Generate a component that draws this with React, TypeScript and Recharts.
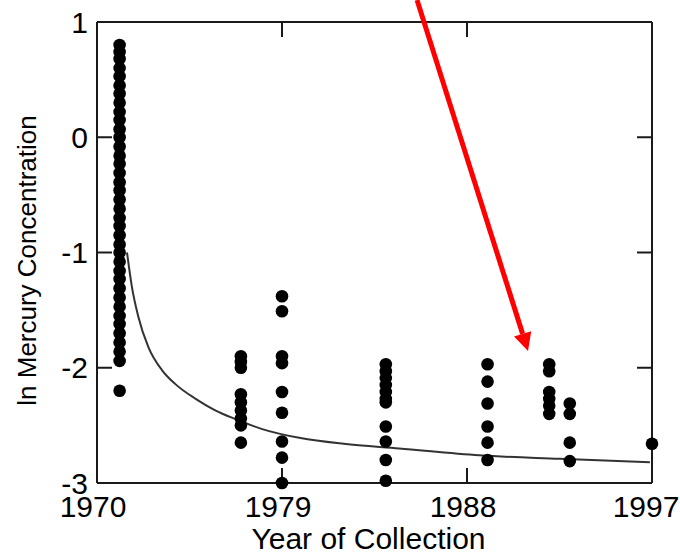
import React from 'react';
import {
  ComposedChart,
  Scatter,
  Line,
  XAxis,
  YAxis,
  ReferenceLine,
} from 'recharts';

// year of collection for each column of samples
const COLUMN_YEARS = [1971.1, 1977, 1979, 1984.05, 1989, 1992, 1993, 1997];

// ln mercury values read per column
const LN_HG_1971 = [
  0.8, 0.74, 0.68, 0.6, 0.53, 0.45, 0.38, 0.3, 0.22, 0.15, 0.07, 0.0, -0.08,
  -0.16, -0.23, -0.31, -0.39, -0.46, -0.54, -0.62, -0.7, -0.77, -0.85, -0.93,
  -1.0, -1.08, -1.16, -1.23, -1.31, -1.39, -1.47, -1.55, -1.62, -1.7, -1.78,
  -1.86, -1.94, -2.2,
];
const LN_HG_1977 = [-1.9, -1.95, -2.0, -2.23, -2.3, -2.37, -2.44, -2.5, -2.65];
const LN_HG_1979 = [-1.38, -1.51, -1.9, -1.96, -2.21, -2.39, -2.64, -2.78, -3.0];
const LN_HG_1984 = [-1.97, -2.03, -2.09, -2.15, -2.21, -2.27, -2.3, -2.51, -2.64, -2.8, -2.98];
const LN_HG_1989 = [-1.97, -2.12, -2.31, -2.51, -2.65, -2.8];
const LN_HG_1992 = [-1.97, -2.03, -2.21, -2.27, -2.33, -2.4];
const LN_HG_1993 = [-2.31, -2.4, -2.65, -2.81];
const LN_HG_1997 = [-2.66];

const COLUMNS = [
  LN_HG_1971, LN_HG_1977, LN_HG_1979, LN_HG_1984,
  LN_HG_1989, LN_HG_1992, LN_HG_1993, LN_HG_1997,
];

// fitted decay curve
const TREND_YEARS = [1971.46, 1971.7, 1972.0, 1972.5, 1973.16, 1973.8, 1974.8, 1975.75, 1976.8, 1978.0, 1979.9, 1982.0, 1984.7, 1988.6, 1992.5, 1996.9];
const TREND_VALUES = [-1.0, -1.3, -1.55, -1.82, -2.02, -2.14, -2.27, -2.37, -2.45, -2.53, -2.61, -2.66, -2.7, -2.76, -2.79, -2.82];

const X_TICKS = [1970, 1979, 1988, 1997];
const Y_TICKS = [1, 0, -1, -2, -3];
const X_INNER_TICKS = [1979, 1988];
const Y_INNER_TICKS = [0, -1, -2];

// red annotation arrow (data coords)
const ARROW_FROM = { x: 1985.57, y: 1.19 };
const ARROW_TO = { x: 1990.97, y: -1.855 };

const FONT = '"Liberation Sans", Arial, sans-serif';
const FRAME = '#1a1a1a';
const TICK_LEN = 15;

const points = COLUMN_YEARS.flatMap((year, i) =>
  COLUMNS[i].map((v) => ({ x: year, y: v }))
);
const trend = TREND_YEARS.map((x, i) => ({ x, y: TREND_VALUES[i] }));

const Dot = (p: any) => <circle cx={p.cx} cy={p.cy} r={6.3} fill="#000" />;

// inward tick marks at both ends of a reference line
const VTicks = (p: any) => {
  const top = Math.min(p.y1, p.y2);
  const bottom = Math.max(p.y1, p.y2);
  return (
    <g stroke={FRAME} strokeWidth={2}>
      <line x1={p.x1} y1={top} x2={p.x1} y2={top + TICK_LEN} />
      <line x1={p.x1} y1={bottom} x2={p.x1} y2={bottom - TICK_LEN} />
    </g>
  );
};

const HTicks = (p: any) => {
  const left = Math.min(p.x1, p.x2);
  const right = Math.max(p.x1, p.x2);
  return (
    <g stroke={FRAME} strokeWidth={2}>
      <line x1={left} y1={p.y1} x2={left + TICK_LEN} y2={p.y1} />
      <line x1={right} y1={p.y1} x2={right - TICK_LEN} y2={p.y1} />
    </g>
  );
};

const Arrow = (p: any) => {
  const { x1, y1, x2, y2 } = p;
  const dx = x2 - x1;
  const dy = y2 - y1;
  const len = Math.sqrt(dx * dx + dy * dy) || 1;
  const ux = dx / len;
  const uy = dy / len;
  const bx = x2 - ux * 18;
  const by = y2 - uy * 18;
  const hw = 9;
  return (
    <g>
      <line x1={x1} y1={y1} x2={bx} y2={by} stroke="#ff0000" strokeWidth={5} />
      <polygon
        points={`${x2},${y2} ${bx + uy * hw},${by - ux * hw} ${bx - uy * hw},${by + ux * hw}`}
        fill="#ff0000"
      />
    </g>
  );
};

const XTitle = ({ viewBox }: any) => (
  <text
    x={viewBox.x + viewBox.width / 2 - 6}
    y={viewBox.y + viewBox.height - 4}
    textAnchor="middle"
    fontSize={30}
    fontFamily={FONT}
    fill="#000"
  >
    Year of Collection
  </text>
);

const YTitle = ({ viewBox }: any) => {
  const cx = viewBox.x + 27;
  const cy = viewBox.y + viewBox.height / 2 + 8;
  return (
    <text
      x={cx}
      y={cy}
      transform={`rotate(-90, ${cx}, ${cy})`}
      textAnchor="middle"
      dominantBaseline="central"
      fontSize={26}
      fontFamily={FONT}
      fill="#000"
    >
      ln Mercury Concentration
    </text>
  );
};

export default function App() {
  return (
    <div style={{ position: 'absolute', left: 0, top: 0, background: '#fff' }}>
      <ComposedChart
        width={680}
        height={553}
        margin={{ top: 22, right: 28, bottom: 0, left: 0 }}
      >
        <XAxis
          type="number"
          dataKey="x"
          domain={[1970, 1997]}
          ticks={X_TICKS}
          height={70}
          tickSize={0}
          tickMargin={13}
          tickLine={false}
          axisLine={{ stroke: FRAME, strokeWidth: 2 }}
          tick={{ fontSize: 30, fill: '#000', fontFamily: FONT, dx: -4 }}
          label={(props: any) => <XTitle {...props} />}
        />
        <YAxis
          type="number"
          dataKey="y"
          domain={[-3, 1]}
          ticks={Y_TICKS}
          width={97}
          tickSize={0}
          tickMargin={9}
          tickLine={false}
          axisLine={{ stroke: FRAME, strokeWidth: 2 }}
          tick={{ fontSize: 30, fill: '#000', fontFamily: FONT }}
          label={(props: any) => <YTitle {...props} />}
        />
        <ReferenceLine y={1} stroke={FRAME} strokeWidth={2} />
        <ReferenceLine x={1997} stroke={FRAME} strokeWidth={2} />
        {X_INNER_TICKS.map((t) => (
          <ReferenceLine key={`xt${t}`} x={t} shape={VTicks} />
        ))}
        {Y_INNER_TICKS.map((t) => (
          <ReferenceLine key={`yt${t}`} y={t} shape={HTicks} />
        ))}
        <Line
          data={trend}
          dataKey="y"
          type="monotone"
          stroke="#333"
          strokeWidth={2}
          dot={false}
          activeDot={false}
          isAnimationActive={false}
        />
        <Scatter data={points} shape={Dot} isAnimationActive={false} />
        <ReferenceLine
          segment={[ARROW_FROM, ARROW_TO]}
          ifOverflow="visible"
          shape={Arrow}
        />
      </ComposedChart>
    </div>
  );
}
